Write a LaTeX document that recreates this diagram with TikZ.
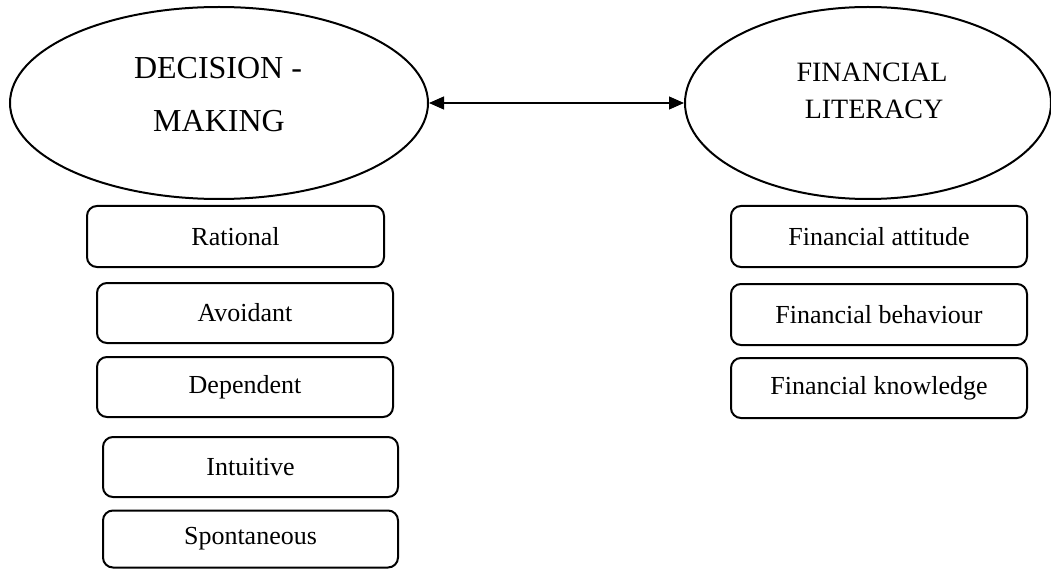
\documentclass[tikz,border=0pt]{standalone}
\usepackage{fontspec}
\setmainfont{Liberation Serif}
\usetikzlibrary{arrows.meta,shapes.geometric}
\begin{document}
\begin{tikzpicture}[x=1pt,y=-1pt,
  ell/.style={draw,line width=2pt,ellipse,inner sep=0pt},
  ltext/.style={anchor=base,inner sep=0pt},
  itembox/.style={draw,line width=2pt,rounded corners=10pt,minimum width=#1,minimum height=60pt,inner sep=0pt,font=\fontsize{26}{30}\selectfont},
  itembox/.default=296pt,
  link/.style={line width=1.2pt,{Triangle[length=15pt,width=13pt]}-{Triangle[length=15pt,width=13pt]}}
]
\useasboundingbox (0,0) rectangle (1051,569);
% ellipses
\node[ell,minimum width=418pt,minimum height=192pt] (dm) at (219,103) {};
\node[ell,minimum width=366pt,minimum height=192pt] (fl) at (868,103) {};
\node[ltext,font=\fontsize{32}{36}\selectfont] (dm1) at (218,79) {DECISION -};
\node[ltext,font=\fontsize{32}{36}\selectfont] (dm2) at (219,132) {MAKING};
\node[ltext,font=\fontsize{28}{32}\selectfont] (fl1) at (872,82) {FINANCIAL};
\node[ltext,font=\fontsize{28}{32}\selectfont] (fl2) at (874,119) {LITERACY};
\draw[link] (dm.east) -- (fl.west);
% left boxes
\node[itembox=297pt,minimum height=61pt] (r) at (235.5,236.5) {Rational};
\node[itembox] (a) at (245,313) {Avoidant};
\node[itembox] (d) at (245,387) {Dependent};
\node[itembox=295pt] (i) at (250.5,467) {Intuitive};
\node[itembox=295pt,minimum height=57pt] (s) at (250.5,539) {Spontaneous};
% right boxes
\node[itembox,minimum height=61pt] (fa) at (879,236.5) {Financial attitude};
\node[itembox,minimum height=61pt] (fb) at (879,314.5) {Financial behaviour};
\node[itembox] (fk) at (879,388) {Financial knowledge};
\end{tikzpicture}
\end{document}
